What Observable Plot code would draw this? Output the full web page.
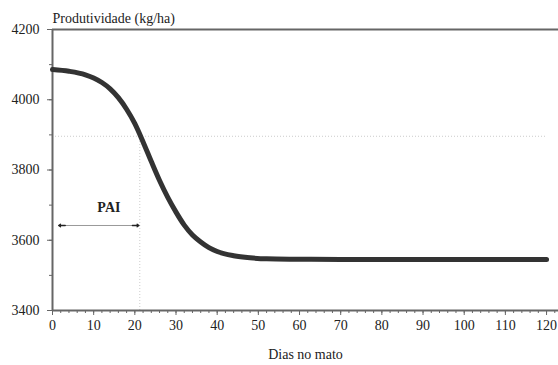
<!DOCTYPE html>
<html>
<head>
<meta charset="utf-8">
<script src="https://cdn.jsdelivr.net/npm/d3@7"></script>
<script src="https://cdn.jsdelivr.net/npm/@observablehq/plot@0.6"></script>
<style>
  html, body { margin: 0; padding: 0; background: #fff; }
  svg { display: block; }
  svg text { font-family: 'Liberation Serif', 'Times New Roman', serif; }
</style>
</head>
<body>
<div id="chart"></div>
<script>
const days   = [0, 4, 8, 10, 12, 14, 16, 18, 20, 22, 24, 26, 28, 30, 32, 34, 36, 38, 40, 44, 48, 52, 60, 70, 80, 90, 100, 110, 120];
const yields = [4086, 4081, 4071, 4062, 4049, 4031, 4006, 3973, 3932, 3880, 3824, 3770, 3722, 3680, 3643, 3615, 3595, 3579, 3568, 3556, 3550, 3547, 3546, 3545, 3545, 3545, 3545, 3545, 3545];
const xTicks = [0, 10, 20, 30, 40, 50, 60, 70, 80, 90, 100, 110, 120];
const xMinorTicks = d3.range(0, 124, 2);
const yTicks = [3400, 3600, 3800, 4000, 4200];
const yMinorTicks = [3400, 3500, 3600, 3700, 3800, 3900, 4000, 4100, 4200];
const refYield = 3896;
const refDay = 21.2;
const paiStart = 1.5;
const paiEnd = 21;
const paiLevel = 3642;
const paiLabel = "PAI";
const titleText = "Produtividade (kg/ha)";
const xLabel = "Dias no mato";

const data = days.map((d, i) => ({day: d, y: yields[i]}));
const axisColor = "#666";
const font = "'Liberation Serif', 'Times New Roman', serif";

const chart = Plot.plot({
  width: 558,
  height: 365,
  marginLeft: 52,
  marginRight: 0,
  marginTop: 29,
  marginBottom: 55,
  style: {fontFamily: font, fontSize: "14px", color: "#222", background: "#fff"},
  x: {domain: [0, 122.9]},
  y: {domain: [3400, 4200]},
  marks: [
    // reference dotted lines
    Plot.ruleY([refYield], {x1: 0, x2: 120, stroke: "#ccc", strokeWidth: 1, strokeDasharray: "1,2"}),
    Plot.ruleX([refDay], {y1: 3400, y2: refYield, stroke: "#ccc", strokeWidth: 1, strokeDasharray: "1,2"}),
    // minor ticks
    Plot.axisX({ticks: xMinorTicks, tickSize: 3, tickFormat: () => "", stroke: axisColor, strokeWidth: 1, label: null}),
    Plot.axisY({ticks: yMinorTicks, tickSize: 3, tickFormat: () => "", stroke: axisColor, strokeWidth: 1, label: null}),
    // major ticks and labels
    Plot.axisX({ticks: xTicks, tickSize: 5, tickPadding: 5, stroke: axisColor, fill: "#222",
                label: xLabel, labelAnchor: "center", labelArrow: "none", labelOffset: 48, fontSize: 14}),
    Plot.axisY({ticks: yTicks, tickSize: 5, tickPadding: 8, stroke: axisColor, fill: "#222",
                tickFormat: d => String(d), label: null, fontSize: 14}),
    // frame lines
    Plot.ruleX([0], {stroke: axisColor, strokeWidth: 2}),
    Plot.ruleY([3400], {stroke: axisColor, strokeWidth: 2}),
    Plot.ruleY([4200], {stroke: axisColor, strokeWidth: 2}),
    // PAI arrow
    Plot.link([{x1: paiStart, x2: paiEnd, y: paiLevel}], {x1: "x1", x2: "x2", y1: "y", y2: "y", stroke: "#999", strokeWidth: 1}),
    Plot.arrow([{x1: paiStart + 1.6, x2: paiStart}, {x1: paiEnd - 1.6, x2: paiEnd}],
      {x1: "x1", x2: "x2", y1: paiLevel, y2: paiLevel, stroke: "#222", strokeWidth: 1.3, headLength: 7, headAngle: 70}),
    Plot.text([paiLabel], {x: 13.7, y: 3694, fontWeight: "bold", fontSize: 14, fill: "#222"}),
    // curve
    Plot.line(data, {x: "day", y: "y", curve: "monotone-x", stroke: "#333", strokeWidth: 5, strokeLinecap: "round"}),
    // title
    Plot.text([titleText], {frameAnchor: "top-left", dy: -7, lineAnchor: "bottom", textAnchor: "start", fontSize: 14, fill: "#222"})
  ]
});
document.getElementById("chart").appendChild(chart);
</script>
</body>
</html>
